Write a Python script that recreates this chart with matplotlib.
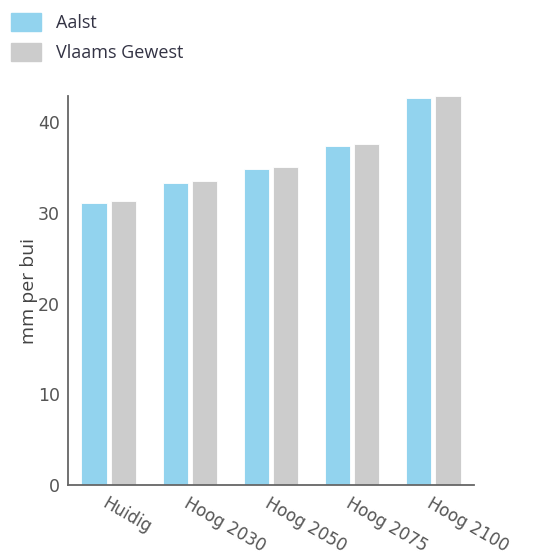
import numpy as np
import matplotlib
matplotlib.use('Agg')
import matplotlib.pyplot as plt
from matplotlib.patches import Patch

categories = ['Huidig', 'Hoog 2030', 'Hoog 2050', 'Hoog 2075', 'Hoog 2100']
aalst = [31.1, 33.3, 34.9, 37.4, 42.7]
vlaams = [31.3, 33.5, 35.1, 37.6, 42.9]
series_names = ['Aalst', 'Vlaams Gewest']
colors = ['#92d3ee', '#cccccc']

fig = plt.figure(figsize=(5.34, 5.56), dpi=100)
ax = fig.add_axes([0.1273, 0.1277, 0.7603, 0.6996])

x = np.arange(len(categories))
w = 0.31
gap = 0.025
ax.bar(x - w / 2 - gap, aalst, w, color=colors[0], edgecolor='white', linewidth=0.6)
ax.bar(x + w / 2 + gap, vlaams, w, color=colors[1], edgecolor='white', linewidth=0.6)

ax.set_xlim(-0.5, len(categories) - 0.5)
ax.set_ylim(0, max(vlaams))
ax.set_yticks([0, 10, 20, 30, 40])

for s in ['top', 'right']:
    ax.spines[s].set_visible(False)
for s in ['left', 'bottom']:
    ax.spines[s].set_color('#666666')
    ax.spines[s].set_linewidth(1.3)

ax.tick_params(axis='y', length=0, pad=6, labelsize=12.5, labelcolor='#555555')
ax.tick_params(axis='x', length=0, pad=7)
ax.set_xticks(x)
ax.set_xticklabels(categories, rotation=-30, ha='left', va='top',
                   rotation_mode='anchor', fontsize=12, color='#555555')
for lbl in ax.get_xticklabels():
    lbl.set_x(lbl.get_position()[0])

ax.set_ylabel('mm per bui', fontsize=14, color='#444444', family='Open Sans', labelpad=0)

handles = [Patch(facecolor=colors[0], edgecolor=colors[0]),
           Patch(facecolor=colors[1], edgecolor=colors[1])]
fig.legend(handles, series_names, loc='upper left', bbox_to_anchor=(0.0075, 0.99),
           borderaxespad=0, frameon=False, prop={'family': 'Open Sans', 'size': 13},
           handlelength=1.66, handleheight=1.2, handletextpad=0.8, labelspacing=0.6,
           labelcolor='#333344')

fig.savefig('out.png', dpi=100)
